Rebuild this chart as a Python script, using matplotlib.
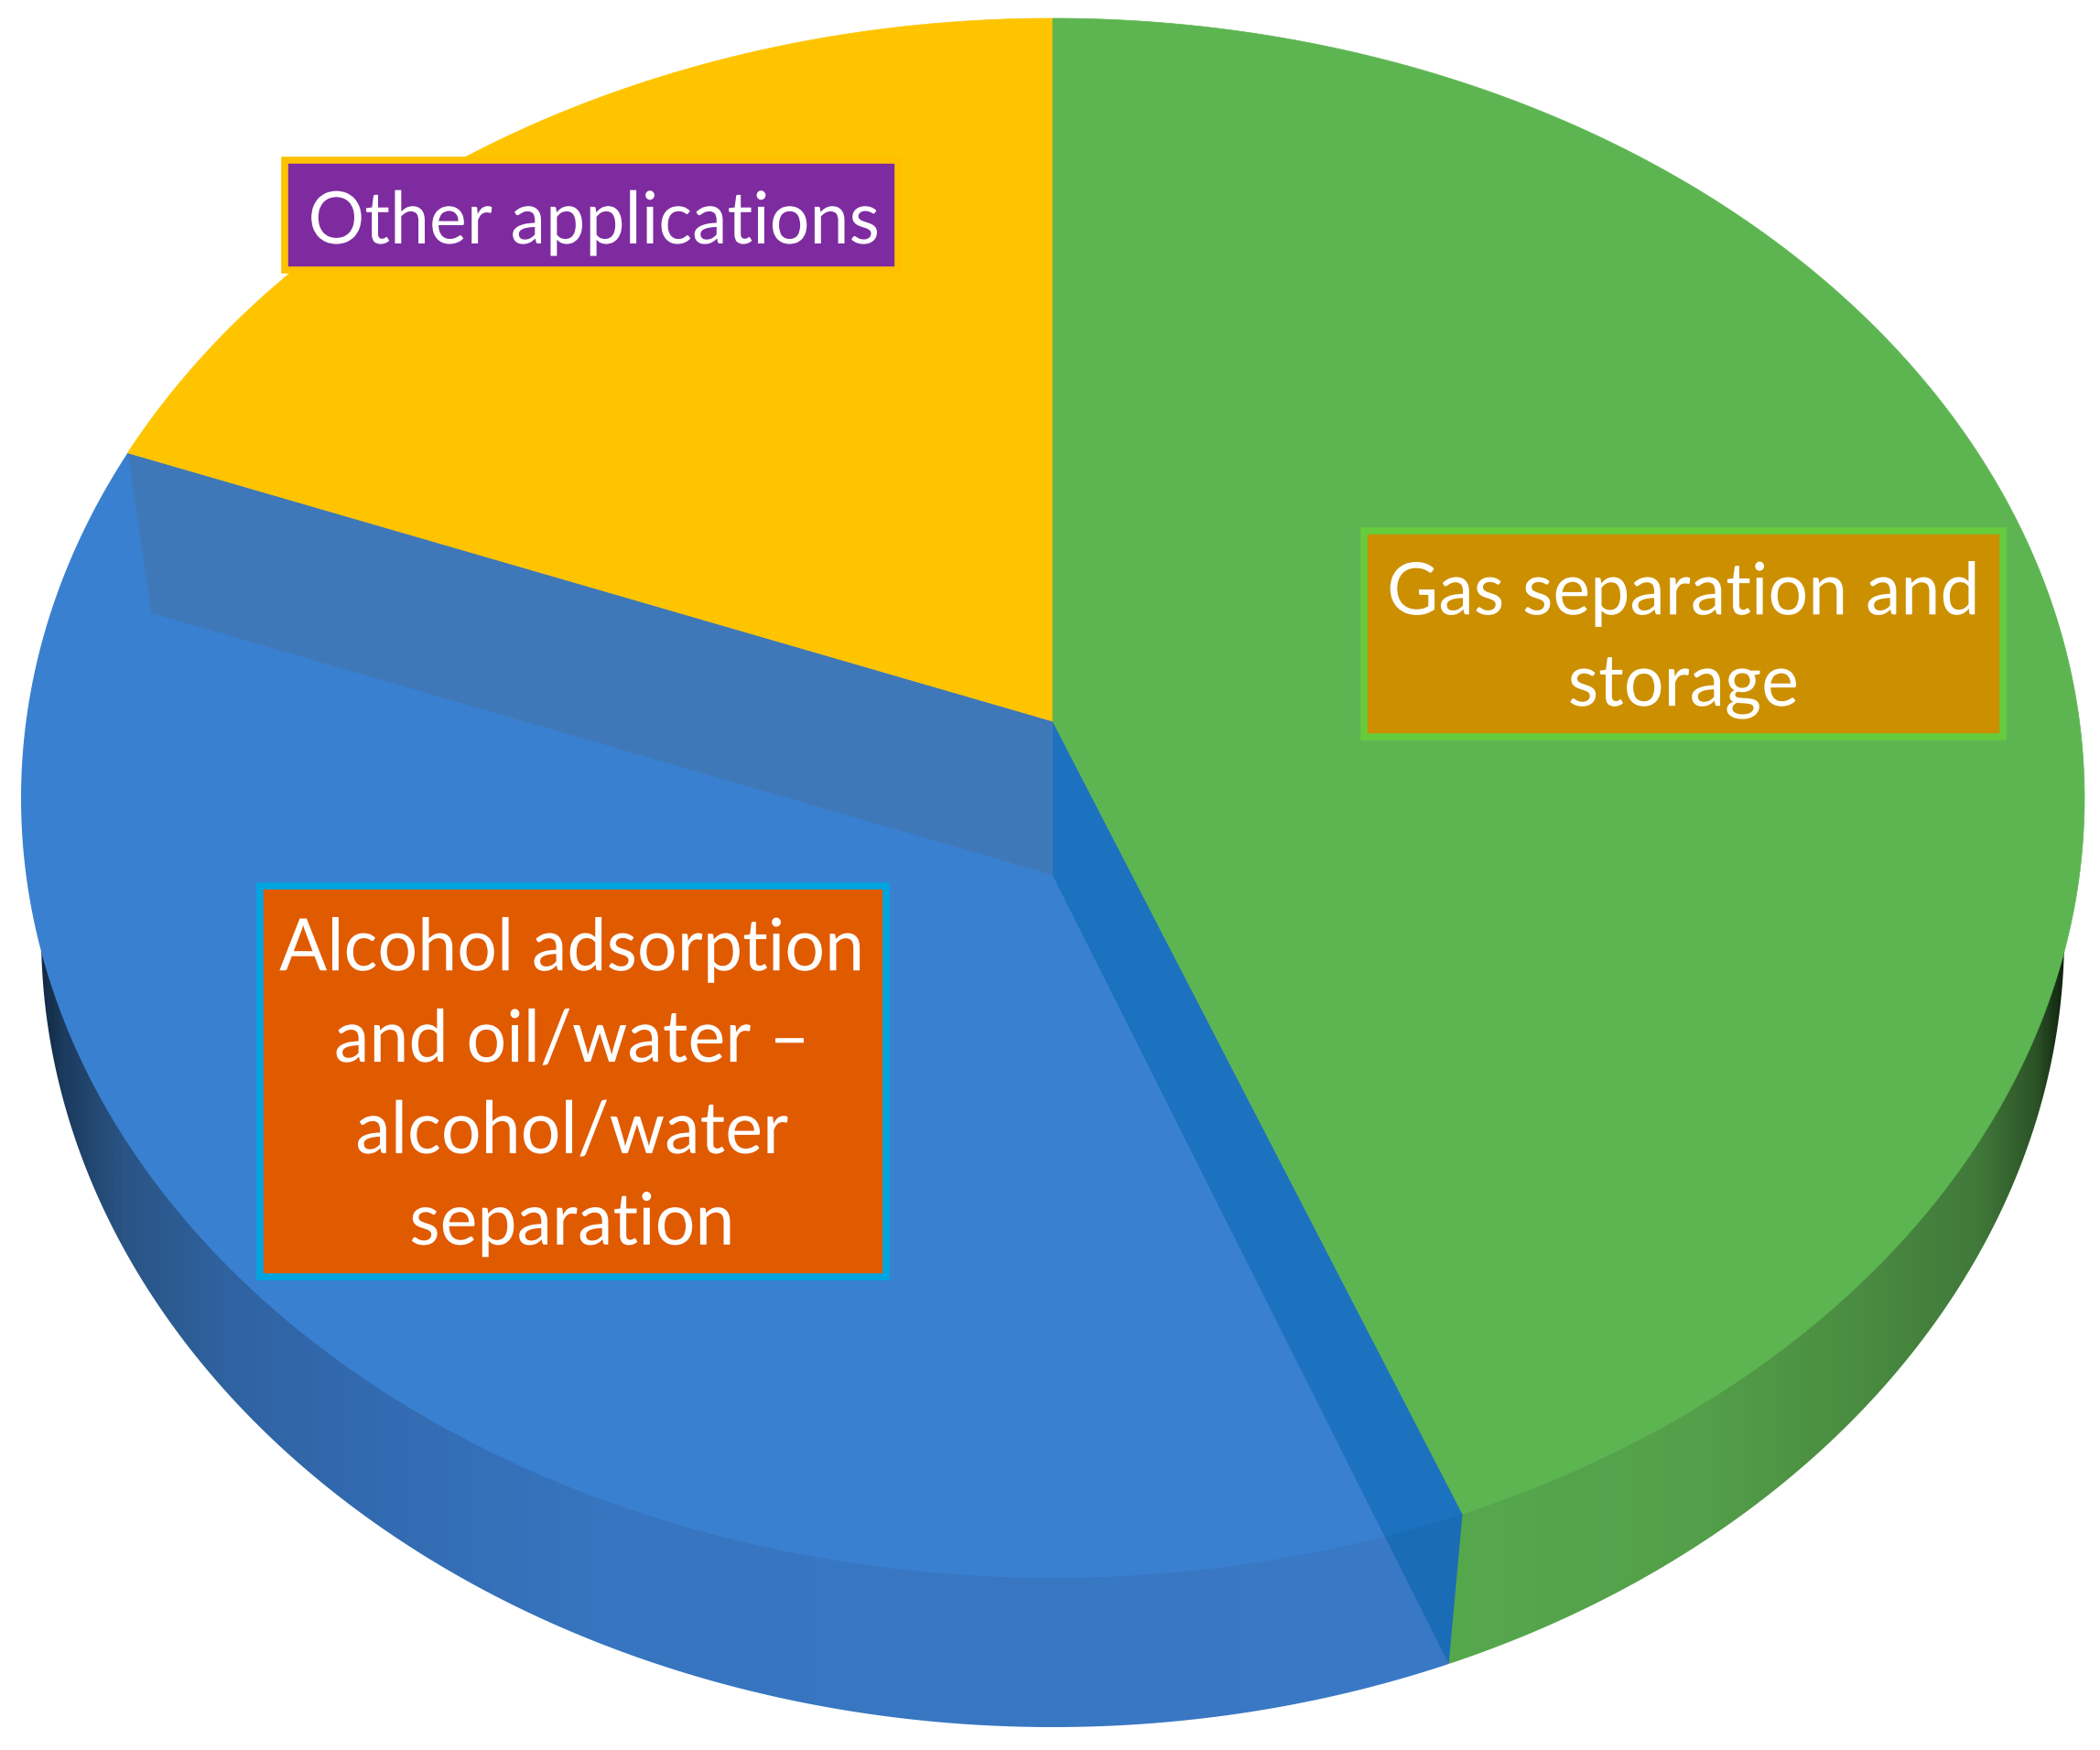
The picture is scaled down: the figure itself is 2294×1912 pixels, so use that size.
import numpy as np
import matplotlib
matplotlib.use("Agg")
import matplotlib.pyplot as plt
import matplotlib.patheffects as pe
from matplotlib.colors import LinearSegmentedColormap
from matplotlib.patches import Polygon, Rectangle
from matplotlib.transforms import Affine2D

# shares, clockwise from the top: gas, alcohol, other
shares = [43.5, 38.8, 17.7]
gas_label = "Gas separation and\nstorage"
alcohol_label = "Alcohol adsorption\nand oil/water \u2013\nalcohol/water\nseparation"
other_label = "Other applications"

W, H = 2294, 1912
plt.rcParams["font.family"] = ["Lato", "DejaVu Sans"]

# pie geometry in pixels
CX = 1150
TOP = (1127, 872, 852)     # rx, cy, ry of the top face
BOT = (1105, 1022, 865)    # rx, cy, ry of the lower rim
APEX_Y = 788
APEX_DROP = 168
LEFT_DROP = (26, 175)
RIGHT_DROP = (-15, 164)

GREEN = "#5db552"
BLUE = "#3a80d0"
YELLOW = "#ffc400"


def rim(t, e):
    t = np.radians(t)
    return np.column_stack([CX + e[0] * np.sin(t), e[1] - e[2] * np.cos(t)])


def arc(t0, t1, e):
    return rim(np.linspace(t0, t1, 300), e)


class Squeeze(pe.AbstractPathEffect):
    # Calibri-like narrow text: squeeze the glyphs around the label centre
    def __init__(self, x0, sx):
        super().__init__()
        self.x0 = x0
        self.sx = sx

    def draw_path(self, renderer, gc, tpath, affine, rgbFace=None):
        squeeze = Affine2D().translate(-self.x0, 0).scale(self.sx, 1).translate(self.x0, 0)
        renderer.draw_path(gc, tpath, affine + squeeze, rgbFace)


fig = plt.figure(figsize=(W / 100, H / 100), dpi=100)
ax = fig.add_axes([0, 0, 1, 1])

ang = np.cumsum([0] + shares) * 3.6
green_end = ang[1]
blue_end = ang[2]
apex = np.array([[CX, APEX_Y]])
corner_r = rim(green_end, TOP)[0]
corner_l = rim(blue_end, TOP)[0]
low_r = corner_r + RIGHT_DROP
low_l = corner_l + LEFT_DROP
low_apex = apex[0] + [0, APEX_DROP]


def side(x0, x1, stops, clip_pts):
    cmap = LinearSegmentedColormap.from_list("side", stops)
    im = ax.imshow(np.linspace(0, 1, 600).reshape(1, -1), cmap=cmap, extent=[x0, x1, H, 0],
                   aspect="auto", zorder=1, interpolation="bilinear")
    clip = Polygon(clip_pts, closed=True, transform=ax.transData)
    im.set_clip_path(clip)


# shaded outer side of the disc
side(1500, 2280,
     [(0, "#56aa4e"), (0.45, "#54a04a"), (0.68, "#4a8c41"), (0.85, "#41793a"),
      (0.93, "#2c5327"), (0.97, "#10230f"), (1, "#0b160a")],
     np.vstack([[low_r], arc(green_end, 70, BOT), apex]))
side(20, 1600,
     [(0, "#0a1a2c"), (0.03, "#1c3c60"), (0.07, "#2a5484"), (0.14, "#2f62a0"),
      (0.22, "#3269ae"), (0.4, "#3775c0"), (1, "#3a79c5")],
     np.vstack([[low_r], arc(green_end, 285, BOT), apex]))

ax.set_xlim(0, W)
ax.set_ylim(H, 0)
ax.axis("off")

# top faces
ax.fill(*np.vstack([apex, arc(green_end, blue_end, TOP)]).T, color=BLUE, lw=0, zorder=2)
top_clip = Polygon(arc(0, 360, TOP), closed=True, transform=ax.transData)

# inner walls of the blue slice
ax.fill(*np.array([corner_l, apex[0], low_apex, low_l]).T, color="#3f78b8", lw=0, zorder=3)
ax.fill(*np.array([apex[0], corner_r, low_r, low_apex]).T, color="#1b6cb6", lw=0, zorder=3)
wall_up = ax.fill(*np.array([apex[0], corner_r, low_r, low_apex]).T, color="#1d72bf", lw=0, zorder=3.1)[0]
wall_up.set_clip_path(top_clip)

ax.fill(*np.vstack([apex, arc(blue_end, 360, TOP)]).T, color=YELLOW, lw=0.5, zorder=4)
ax.fill(*np.vstack([apex, arc(0, green_end, TOP)]).T, color=GREEN, lw=0.5, zorder=4)

# labels
boxes = [
    (gas_label, 1490, 580, 698, 225, "#cc8f00", "#66cc3c", 1839, 700),
    (alcohol_label, 284, 968, 684, 427, "#e05a00", "#00a5e0", 625, 1188),
    (other_label, 311, 175, 670, 120, "#7e2ba0", "#ffc000", 649, 244),
]
for txt, x, y, w, h, fc, ec, tx, ty in boxes:
    ax.add_patch(Rectangle((x, y), w, h, facecolor=fc, edgecolor=ec, lw=5.5, zorder=5))
    x0 = ax.transData.transform((tx, ty))[0]
    ax.text(tx, ty, txt, color="white", fontsize=57, ha="center", va="center", ma="center",
            linespacing=1.48, zorder=6, path_effects=[Squeeze(x0, 0.975)])

fig.savefig("out.png", dpi=100, facecolor="white")
